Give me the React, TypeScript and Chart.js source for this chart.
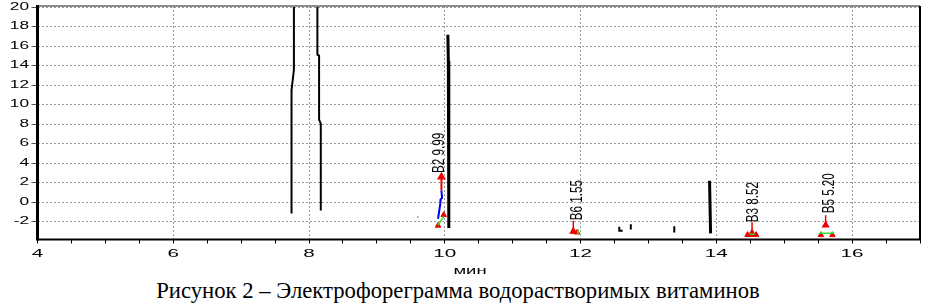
import React, { useEffect, useRef } from 'react';
import { Chart, registerables } from 'chart.js';

Chart.register(...registerables);

// ---- axes ----
const xMin = 4;
const xMax = 17;
const yMin = -3.83;
const yMax = 20.15;
const xTickStep = 0.5;
const xLabelEvery = 2;
const yTickStep = 2;
const xAxisTitle = 'мин';
const caption = 'Рисунок 2 – Электрофореграмма водорастворимых витаминов';

// ---- black trace segments (time, min ; signal) ----
const peak1X = [7.742, 7.742, 7.777, 7.777];
const peak1Y = [-1.15, 11.5, 13.6, 22];
const peak2X = [8.173, 8.173, 8.148, 8.148, 8.123, 8.123];
const peak2Y = [-0.85, 8.07, 8.48, 15.06, 15.16, 22];
const peak3X = [10.045, 10.052, 10.058, 10.06];
const peak3Y = [17.2, 14.5, 0, -2.66];
const peak4X = [13.9, 13.915];
const peak4Y = [2.2, -3.2];
const dotX = [9.6, 9.607];
const dotY = [-1.52, -1.52];
const markAX = [12.57, 12.57, 12.62];
const markAY = [-2.53, -2.94, -2.94];
const markBX = [12.74, 12.74];
const markBY = [-2.26, -2.8];
const markCX = [13.38, 13.38];
const markCY = [-2.46, -3.1];

// ---- peak identification marks ----
const b2RedX = [9.95, 9.95];
const b2RedY = [2.6, 1.2];
const b2BlueX = [9.95, 9.96, 9.94, 9.93, 9.94, 9.9];
const b2BlueY = [1.2, 0.45, 0.3, 0.05, -0.1, -1.7];
const b2GreenX = [9.9, 9.984];
const b2GreenY = [-2.36, -1.45];
const b6RedX = [11.893, 11.893];
const b6RedY = [-1.9, -3.0];
const b6GreenX = [11.96, 11.96];
const b6GreenY = [-2.8, -3.3];
const b3RedX = [14.526, 14.526];
const b3RedY = [-2.06, -3.19];
const b3GreenX = [14.49, 14.565];
const b3GreenY = [-3.3, -3.3];
const b5RedX = [15.61, 15.61];
const b5RedY = [-1.35, -2.36];
const b5GreenX = [15.54, 15.54, 15.71, 15.71];
const b5GreenY = [-3.0, -3.19, -3.19, -3.0];
const baseTriX = [9.9, 9.984, 11.893, 11.95, 14.46, 14.54, 14.585, 15.54, 15.71];
const baseTriY = [-2.4, -1.3, -3.0, -3.1, -3.35, -3.35, -3.35, -3.37, -3.37];

// ---- peak labels ----
const peakNames = ['B2 9.99', 'B6 1.55', 'B3 8.52', 'B5 5.20'];
const peakLabelX = [9.925, 11.95, 14.55, 15.67];
const peakLabelY = [3.0, -1.85, -2.06, -1.14];

const zip = (xs: number[], ys: number[]) => xs.map((x, i) => ({ x, y: ys[i] }));

const BLACK = '#000000';
const RED = '#ee0000';
const BLUE = '#0000ee';
const GREEN = '#33dd33';
const SANS = '"Liberation Sans", Arial, sans-serif';

const CANVAS_W = 926;
const CANVAS_H = 278;
const AREA_TOP = 2.7;
const AREA_BOTTOM = 239.5;

const framePlugin = {
  id: 'frame',
  afterDatasetsDraw(chart: any) {
    const { ctx, chartArea } = chart;
    const { left, right, top, bottom } = chartArea;
    const line = (x1: number, y1: number, x2: number, y2: number) => {
      ctx.beginPath();
      ctx.moveTo(x1, y1);
      ctx.lineTo(x2, y2);
      ctx.stroke();
    };
    ctx.save();
    ctx.setLineDash([]);
    ctx.strokeStyle = '#8c8c8c';
    ctx.lineWidth = 2;
    line(left, top, right, top);
    ctx.strokeStyle = BLACK;
    line(right, top, right, bottom);
    line(left, bottom, right + 1, bottom);
    ctx.lineWidth = 3;
    line(left, top - 1, left, bottom + 1);
    ctx.restore();
  },
};

// stretched axis text (the source picture is widened horizontally)
const axisTextPlugin = {
  id: 'axisText',
  afterDraw(chart: any) {
    const { ctx, scales, chartArea } = chart;
    const xs = scales.x;
    const ys = scales.y;
    ctx.save();
    ctx.fillStyle = BLACK;
    ctx.font = '11.5px ' + SANS;
    ctx.textBaseline = 'middle';
    ctx.textAlign = 'right';
    ys.ticks.forEach((t: any) => {
      const py = ys.getPixelForValue(t.value) - 0.7;
      ctx.save();
      ctx.translate(29, py);
      ctx.scale(1.5, 1);
      ctx.fillText(String(t.value), 0, 0);
      ctx.restore();
    });
    ctx.textAlign = 'center';
    xs.ticks.forEach((t: any) => {
      if (Math.abs(t.value % xLabelEvery) > 1e-9) return;
      const px = xs.getPixelForValue(t.value);
      ctx.save();
      ctx.translate(px, chartArea.bottom + 14.8);
      ctx.scale(1.8, 1);
      ctx.fillText(String(t.value), 0, 0);
      ctx.restore();
    });
    ctx.save();
    ctx.translate(470, chartArea.bottom + 31);
    ctx.scale(1.6, 1);
    ctx.fillText(xAxisTitle, 0, 0);
    ctx.restore();

    // peak labels, rotated
    ctx.font = '12px ' + SANS;
    ctx.textAlign = 'left';
    peakNames.forEach((name, i) => {
      const px = xs.getPixelForValue(peakLabelX[i]);
      const py = ys.getPixelForValue(peakLabelY[i]);
      ctx.save();
      ctx.translate(px, py);
      ctx.rotate(-Math.PI / 2);
      ctx.scale(0.97, 1.4);
      ctx.fillText(name, 0, 0);
      ctx.restore();
    });
    ctx.restore();
  },
};

function lineSet(xs: number[], ys: number[], color: string, width = 2, extra: any = {}) {
  return {
    data: zip(xs, ys),
    showLine: true,
    borderColor: color,
    backgroundColor: color,
    borderWidth: width,
    pointRadius: 0,
    ...extra,
  };
}

if (typeof document !== 'undefined') {
  document.body.style.margin = '0';
}

export default function App() {
  const ref = useRef<HTMLCanvasElement | null>(null);

  useEffect(() => {
    if (!ref.current) return;
    const triStart = { pointStyle: 'triangle', pointRadius: (c: any) => (c.dataIndex === 0 ? 3.2 : 0) };
    const triEnd = { pointStyle: 'triangle', pointRadius: (c: any) => (c.dataIndex === 1 ? 3.2 : 0) };
    const chart = new Chart(ref.current, {
      type: 'scatter',
      data: {
        datasets: [
          lineSet(peak1X, peak1Y, BLACK, 2),
          lineSet(peak2X, peak2Y, BLACK, 2),
          lineSet(peak3X, peak3Y, BLACK, 3),
          lineSet(peak4X, peak4Y, BLACK, 3),
          lineSet(dotX, dotY, BLACK, 2),
          lineSet(markAX, markAY, BLACK, 2),
          lineSet(markBX, markBY, BLACK, 2),
          lineSet(markCX, markCY, BLACK, 2),
          lineSet(b2BlueX, b2BlueY, BLUE, 2),
          lineSet(b2GreenX, b2GreenY, GREEN, 1.5),
          lineSet(b6GreenX, b6GreenY, GREEN, 1),
          lineSet(b3GreenX, b3GreenY, GREEN, 1.5),
          lineSet(b5GreenX, b5GreenY, GREEN, 1.5),
          lineSet(b2RedX, b2RedY, RED, 2, triStart),
          lineSet(b6RedX, b6RedY, RED, 1.5, triEnd),
          lineSet(b3RedX, b3RedY, RED, 1.5, triEnd),
          lineSet(b5RedX, b5RedY, RED, 1.5, triEnd),
          {
            data: zip(baseTriX, baseTriY),
            showLine: false,
            pointStyle: 'triangle',
            pointRadius: 3.2,
            borderWidth: 1,
            borderColor: RED,
            backgroundColor: RED,
          },
        ],
      },
      options: {
        responsive: false,
        animation: false,
        layout: { padding: { top: AREA_TOP, right: 3, left: 0, bottom: 0 } },
        plugins: {
          legend: { display: false },
          tooltip: { enabled: false },
          title: { display: false },
        },
        scales: {
          x: {
            type: 'linear',
            min: xMin,
            max: xMax,
            afterFit: (s: any) => {
              s.height = CANVAS_H - AREA_BOTTOM;
              s.paddingLeft = 0;
              s.paddingRight = 0;
            },
            ticks: {
              stepSize: xTickStep,
              autoSkip: false,
              maxRotation: 0,
              includeBounds: false,
              display: false,
            },
            grid: {
              color: (c: any) =>
                c.tick && Math.abs(c.tick.value % xLabelEvery) < 1e-9 && c.tick.value !== xMin
                  ? '#9a9a9a'
                  : 'rgba(0,0,0,0)',
              tickColor: BLACK,
              tickLength: 4,
              lineWidth: 1,
            },
            border: { display: false, dash: [2, 2] },
          },
          y: {
            type: 'linear',
            min: yMin,
            max: yMax,
            afterFit: (s: any) => {
              s.width = 37.5;
              s.paddingTop = 0;
              s.paddingBottom = 0;
            },
            ticks: {
              stepSize: yTickStep,
              includeBounds: false,
              display: false,
            },
            grid: {
              color: '#9a9a9a',
              tickColor: '#555',
              tickLength: 6,
              lineWidth: 1,
            },
            border: { display: false, dash: [2, 2] },
          },
        },
      },
      plugins: [framePlugin, axisTextPlugin],
    } as any);
    return () => chart.destroy();
  }, []);

  return (
    <div style={{ width: CANVAS_W, height: 304, margin: 0, padding: 0 }}>
      <canvas
        ref={ref}
        width={CANVAS_W}
        height={CANVAS_H}
        style={{ display: 'block', width: CANVAS_W, height: CANVAS_H }}
      />
      <div
        style={{
          width: 916,
          height: 26,
          textAlign: 'center',
          fontFamily: '"Liberation Serif", "Times New Roman", serif',
          fontSize: 22.7,
          lineHeight: '25px',
          color: '#000',
          whiteSpace: 'nowrap',
        }}
      >
        {caption}
      </div>
    </div>
  );
}
